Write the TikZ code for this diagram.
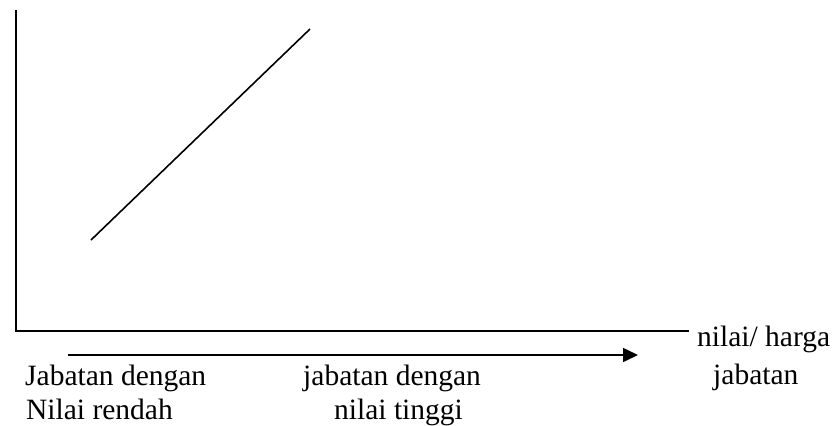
\documentclass[tikz,border=0pt]{standalone}
\usepackage{fontspec}
\setmainfont{Liberation Serif}
\usetikzlibrary{arrows.meta}
\begin{document}
\begin{tikzpicture}[x=1bp,y=-1bp,
  axis/.style={line width=1.6bp,line cap=butt},
  lbl/.style={anchor=base west,inner sep=0pt,font=\fontsize{29.5bp}{34bp}\selectfont}]
\useasboundingbox (0,0) rectangle (836,425);
% axes
\coordinate (ytop) at (16,10);
\coordinate (orig) at (16,331);
\coordinate (xend) at (689,331);
\draw[axis] (ytop) -- (orig) -- (xend);
% diagonal
\coordinate (d1) at (91,240);
\coordinate (d2) at (310,29);
\draw[axis] (d1) -- (d2);
% arrow
\coordinate (a1) at (68,355);
\coordinate (a2) at (638,355);
\draw[axis,-{Triangle[length=15bp,width=14bp]}] (a1) -- (a2);
% labels
\node[lbl] (l1) at (25,385) {Jabatan dengan};
\node[lbl] (l2) at (26,419) {Nilai rendah};
\node[lbl] (m1) at (303,385) {jabatan dengan};
\node[lbl] (m2) at (334,419) {nilai tinggi};
\node[lbl] (r1) at (697,346) {nilai/ harga};
\node[lbl] (r2) at (713,384) {jabatan};
\end{tikzpicture}
\end{document}
